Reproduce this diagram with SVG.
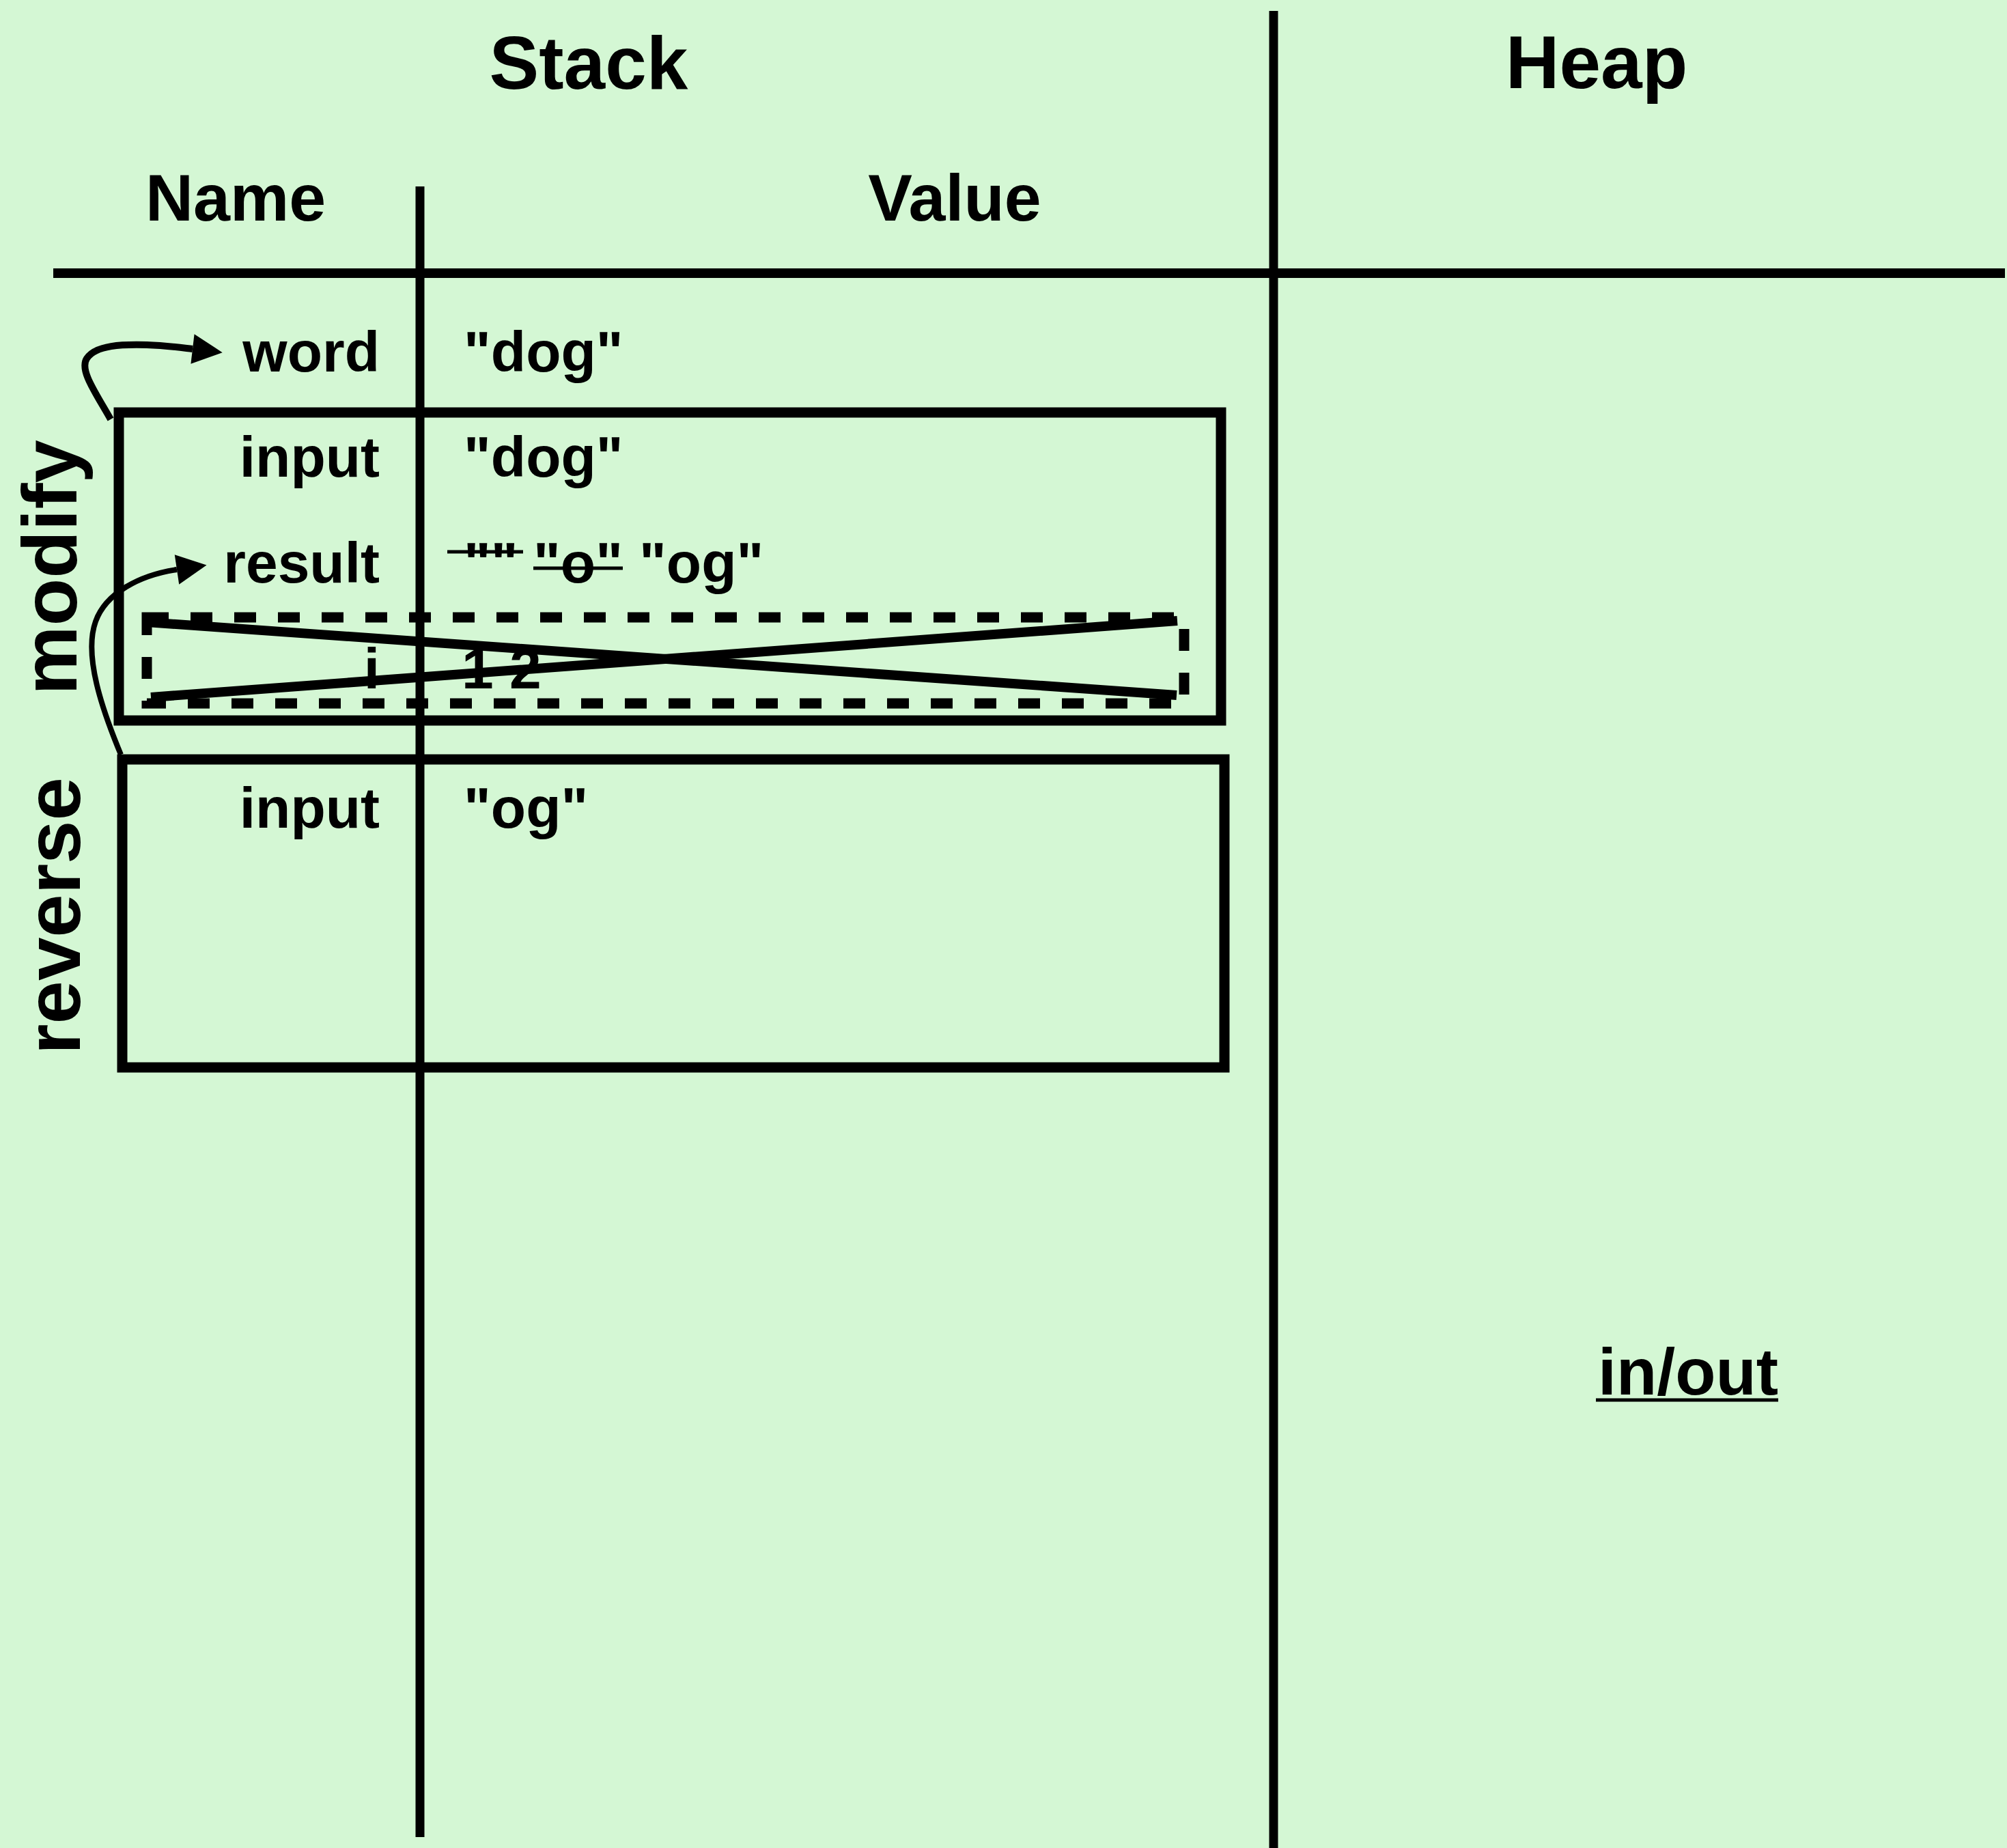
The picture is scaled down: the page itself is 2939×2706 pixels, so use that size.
<svg xmlns="http://www.w3.org/2000/svg" width="2939" height="2706" viewBox="0 0 2939 2706">
  <style>
    text { font-family: "Liberation Sans", Arial, Helvetica, sans-serif; font-weight: bold; fill: #000; }
    .title { font-size: 109px; text-anchor: middle; }
    .col { font-size: 97px; text-anchor: middle; }
    .name { font-size: 84px; text-anchor: end; }
    .val { font-size: 84px; }
    .frame { font-size: 114px; text-anchor: middle; }
    .rule { stroke: #000; stroke-width: 13; fill: none; }
    .box { stroke: #000; stroke-width: 15; fill: none; }
    .strike { stroke: #000; stroke-width: 5; }
    .link { stroke: #000; fill: none; }
  </style>
  <defs>
    <marker id="head" markerUnits="userSpaceOnUse" markerWidth="46" markerHeight="44" refX="0" refY="22" orient="auto" overflow="visible">
      <path d="M0,0 L44,22 L0,44 Z" fill="#000"/>
    </marker>
  </defs>

  <rect x="0" y="0" width="2939" height="2706" fill="#d4f7d4"/>

  <!-- table rules -->
  <g id="grid">
    <line class="rule" x1="78" y1="400" x2="2936" y2="400" style="stroke-width:14"/>
    <line class="rule" x1="615" y1="273" x2="615" y2="2690"/>
    <line class="rule" x1="1865" y1="16" x2="1865" y2="2706"/>
  </g>

  <!-- headings -->
  <g id="headings">
    <text class="title" x="862" y="130">Stack</text>
    <text class="title" x="2338" y="129">Heap</text>
    <text class="col" x="345" y="323">Name</text>
    <text class="col" x="1398" y="323">Value</text>
  </g>

  <!-- global variable -->
  <g id="var-word">
    <text class="name" x="556" y="544">word</text>
    <text class="val" x="679" y="544">"dog"</text>
  </g>

  <!-- modify frame -->
  <g id="frame-modify">
    <rect class="box" x="174" y="604" width="1614" height="451"/>
    <text class="frame" transform="translate(112,831) rotate(-90)">modify</text>
    <g id="modify-input">
      <text class="name" x="556" y="698">input</text>
      <text class="val" x="679" y="698">"dog"</text>
    </g>
    <g id="modify-result">
      <text class="name" x="556" y="853">result</text>
      <text class="val" x="679" y="853">""</text>
      <line class="strike" x1="655" y1="808" x2="766" y2="808"/>
      <text class="val" x="781" y="853">"o"</text>
      <line class="strike" x1="781" y1="832" x2="912" y2="832"/>
      <text class="val" x="936" y="853">"og"</text>
    </g>
    <!-- loop scope, crossed out -->
    <g id="loop-scope">
      <rect x="215" y="904" width="1519" height="126" fill="none" stroke="#000" stroke-width="15" stroke-dasharray="32 32"/>
      <text class="name" x="556" y="1008">i</text>
      <text class="val" x="676" y="1008">1 2</text>
      <line x1="215" y1="911" x2="1723" y2="1018" stroke="#000" stroke-width="14"/>
      <line x1="221" y1="1021" x2="1724" y2="909" stroke="#000" stroke-width="14"/>
    </g>
  </g>

  <!-- reverse frame -->
  <g id="frame-reverse">
    <rect class="box" x="179" y="1112" width="1614" height="451"/>
    <text class="frame" transform="translate(117,1341) rotate(-90)">reverse</text>
    <text class="name" x="556" y="1212">input</text>
    <text class="val" x="679" y="1212">"og"</text>
  </g>

  <!-- heap -->
  <g id="heap-io">
    <text class="col" x="2472" y="2042">in/out</text>
    <line x1="2337" y1="2050" x2="2604" y2="2050" stroke="#000" stroke-width="5"/>
  </g>

  <!-- return arrows -->
  <g id="connectors">
    <path class="link" stroke-width="10" marker-end="url(#head)" d="M162,614 C140,575 116,542 127,525 C140,505 180,504 215,505 C245,506 265,509 282,511"/>
    <path class="link" stroke-width="8" marker-end="url(#head)" d="M177,1105 C150,1040 122,960 140,910 C155,868 205,842 259,834"/>
  </g>
</svg>
